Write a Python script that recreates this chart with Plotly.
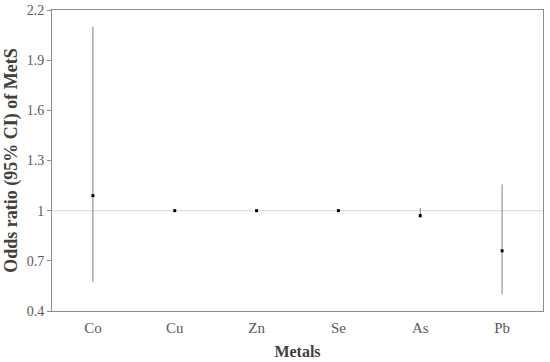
import plotly.graph_objects as go

# ----------------------------
# Data
# ----------------------------
metals = ["Co", "Cu", "Zn", "Se", "As", "Pb"]
odds_ratio = [1.09, 1.0, 1.0, 1.0, 0.97, 0.76]
ci_low = [0.575, 1.0, 1.0, 1.0, 0.955, 0.50]
ci_high = [2.10, 1.0, 1.0, 1.0, 1.015, 1.157]

err_plus = [h - o for h, o in zip(ci_high, odds_ratio)]
err_minus = [o - l for o, l in zip(odds_ratio, ci_low)]

y_ticks = [0.4, 0.7, 1.0, 1.3, 1.6, 1.9, 2.2]
y_labels = ["0.4", "0.7", "1", "1.3", "1.6", "1.9", "2.2"]

FONT = "Liberation Serif, Times New Roman, serif"

fig = go.Figure()

fig.add_trace(go.Scatter(
    x=metals,
    y=odds_ratio,
    mode="markers",
    marker=dict(symbol="square", size=3, color="black"),
    error_y=dict(
        type="data",
        symmetric=False,
        array=err_plus,
        arrayminus=err_minus,
        width=0,
        thickness=1,
        color="#7f7f7f",
    ),
    showlegend=False,
    hoverinfo="skip",
))

# reference line at OR = 1
fig.add_shape(
    type="line", xref="paper", x0=0, x1=1, yref="y", y0=1, y1=1,
    line=dict(color="#d9d9d9", width=1), layer="below",
)

fig.update_layout(
    width=550,
    height=362,
    margin=dict(l=52, r=7, t=10, b=51),
    plot_bgcolor="white",
    paper_bgcolor="white",
    font=dict(family=FONT, color="#595959", size=14),
    xaxis=dict(
        range=[-0.5, 5.5],
        automargin=False,
        showgrid=False,
        showline=True,
        linecolor="#8c8c8c",
        linewidth=1,
        mirror=True,
        ticks="",
        ticklabelstandoff=3,
        tickfont=dict(size=15, color="#595959"),
        title=dict(text="<b>Metals</b>", font=dict(size=16, color="#404040"), standoff=10),
    ),
    yaxis=dict(
        range=[0.4, 2.2],
        automargin=False,
        tickvals=y_ticks,
        ticktext=y_labels,
        showgrid=False,
        zeroline=False,
        showline=True,
        linecolor="#8c8c8c",
        linewidth=1,
        mirror=True,
        ticks="outside",
        ticklen=4,
        tickcolor="#8c8c8c",
        tickfont=dict(size=14, color="#595959"),
        title=dict(text="<b>Odds ratio (95% CI) of MetS</b>", font=dict(size=18, color="#404040"), standoff=4),
    ),
)

# drop the default 8px page margin so the figure sits at the window corner
fig.write_html(
    "out.html",
    config={"displayModeBar": False},
    post_script="document.body.style.margin='0';",
)
